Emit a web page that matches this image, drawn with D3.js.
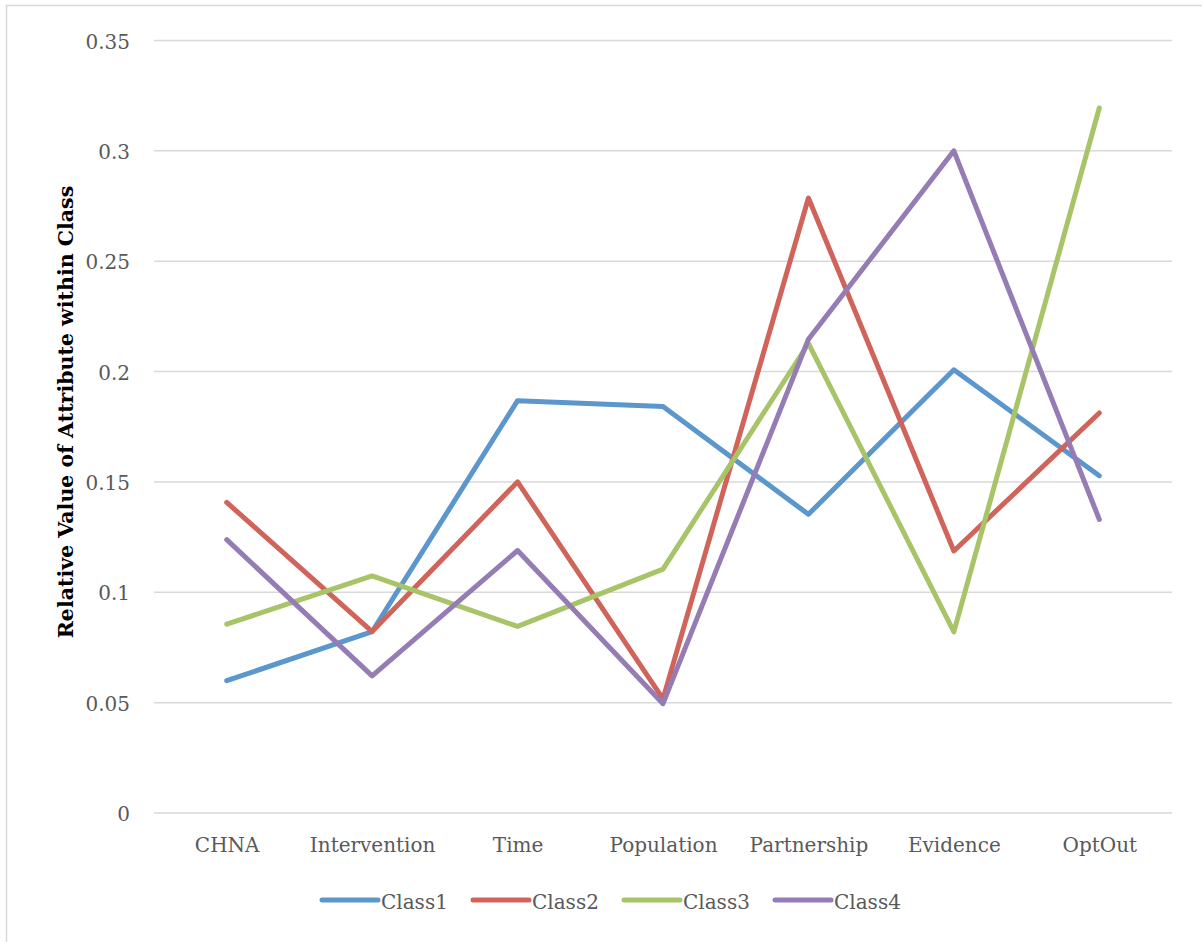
<!DOCTYPE html>
<html>
<head>
<meta charset="utf-8">
<script src="https://cdn.jsdelivr.net/npm/d3@7"></script>
<style>
  html, body { margin: 0; padding: 0; background: #ffffff; }
  svg { display: block; }
</style>
</head>
<body>
<svg id="chart" width="1202" height="942"></svg>
<script>
// Attribute categories along the x axis
const categories = ["CHNA", "Intervention", "Time", "Population", "Partnership", "Evidence", "OptOut"];

// Relative value of each attribute within each latent class
const class1 = [0.0597, 0.0820, 0.1866, 0.1840, 0.1351, 0.2006, 0.1526];
const class2 = [0.1405, 0.0820, 0.1498, 0.0515, 0.2784, 0.1185, 0.1810];
const class3 = [0.0853, 0.1072, 0.0843, 0.1103, 0.2125, 0.0818, 0.3192];
const class4 = [0.1236, 0.0619, 0.1187, 0.0493, 0.2144, 0.2998, 0.1328];

const seriesNames = ["Class1", "Class2", "Class3", "Class4"];
const seriesValues = [class1, class2, class3, class4];
const seriesColors = ["#5B96CD", "#D0645B", "#A8C469", "#957CB4"];

const yTicks = [0, 0.05, 0.1, 0.15, 0.2, 0.25, 0.3, 0.35];
const yTitle = "Relative Value of Attribute within Class";

const font = "'DejaVu Serif', 'Liberation Serif', serif";
const svg = d3.select("#chart");

// Outer chart frame
svg.append("rect")
  .attr("x", 6.5).attr("y", 5.5)
  .attr("width", 1230).attr("height", 960)
  .attr("fill", "#ffffff")
  .attr("stroke", "#d9d9d9")
  .attr("stroke-width", 1.5);

const x = d3.scalePoint()
  .domain(categories)
  .range([154, 1172])
  .padding(0.5);

const y = d3.scaleLinear()
  .domain([0, 0.35])
  .range([812.5, 40]);

// Horizontal gridlines and y tick labels
const yAxis = d3.axisLeft(y)
  .tickValues(yTicks)
  .tickSize(-(1172 - 154))
  .tickPadding(24)
  .tickFormat(d => d === 0 ? "0" : String(+d.toFixed(2)));

const gy = svg.append("g")
  .attr("transform", "translate(154,0)")
  .call(yAxis);
gy.select(".domain").remove();
gy.selectAll(".tick line")
  .attr("stroke", "#d9d9d9")
  .attr("stroke-width", 1.5);
gy.selectAll(".tick text")
  .attr("fill", "#595959")
  .attr("dy", "0.4em")
  .style("font-family", font)
  .style("font-size", "20px");

// Category labels along the bottom
const xAxis = d3.axisBottom(x).tickSize(0).tickPadding(25);
const gx = svg.append("g")
  .attr("transform", "translate(0,812.5)")
  .call(xAxis);
gx.select(".domain").remove();
gx.selectAll(".tick text")
  .attr("fill", "#595959")
  .style("font-family", font)
  .style("font-size", "20px");

// Y axis title
svg.append("text")
  .attr("transform", "translate(73,412) rotate(-90)")
  .attr("text-anchor", "middle")
  .attr("fill", "#000000")
  .style("font-family", font)
  .style("font-weight", "bold")
  .style("font-size", "20.5px")
  .text(yTitle);

// Series lines
const line = d3.line()
  .x((d, i) => x(categories[i]))
  .y(d => y(d));

svg.append("g")
  .selectAll("path")
  .data(seriesValues)
  .join("path")
  .attr("d", d => line(d))
  .attr("fill", "none")
  .attr("stroke", (d, i) => seriesColors[i])
  .attr("stroke-width", 5)
  .attr("stroke-linecap", "round")
  .attr("stroke-linejoin", "round");

// Legend
const legendX0 = 322, legendStep = 151, legendY = 900;
const legend = svg.append("g")
  .selectAll("g")
  .data(seriesNames)
  .join("g")
  .attr("transform", (d, i) => `translate(${legendX0 + i * legendStep},${legendY})`);

legend.append("line")
  .attr("x1", 0).attr("x2", 56)
  .attr("y1", 0).attr("y2", 0)
  .attr("stroke", (d, i) => seriesColors[i])
  .attr("stroke-width", 5)
  .attr("stroke-linecap", "round");

legend.append("text")
  .attr("x", 59)
  .attr("y", 2)
  .attr("dy", "0.35em")
  .attr("fill", "#595959")
  .style("font-family", font)
  .style("font-size", "20px")
  .text(d => d);
</script>
</body>
</html>
